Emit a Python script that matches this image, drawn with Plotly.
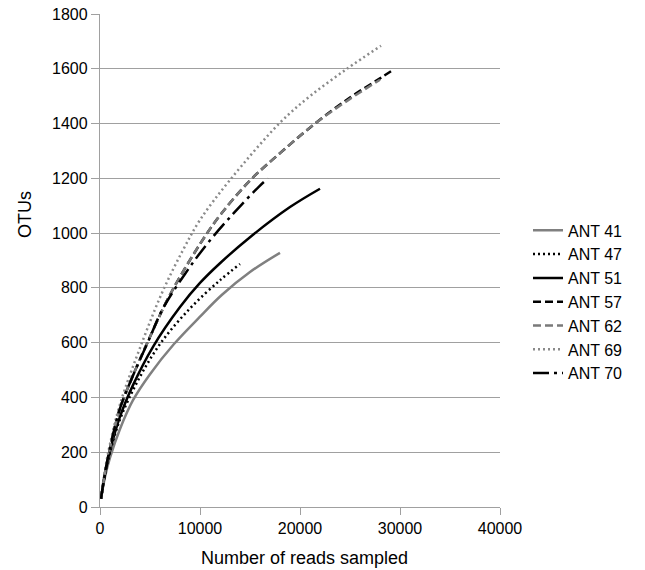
import plotly.graph_objects as go

# Data (reads sampled -> OTUs)
ant41_x = [100, 500, 1000, 2000, 3300, 5000, 7400, 10000, 12200, 15000, 18000]
ant41_y = [30, 110, 180, 285, 390, 485, 595, 695, 775, 858, 928]

ant47_x = [100, 500, 1000, 2000, 3700, 6000, 9000, 12000, 14000]
ant47_y = [30, 120, 200, 320, 455, 595, 725, 828, 887]

ant51_x = [100, 500, 1000, 2000, 3300, 5300, 8000, 10000, 12000, 15000, 19000, 22000]
ant51_y = [30, 120, 205, 330, 445, 585, 730, 818, 890, 985, 1095, 1162]

ant57_x = [100, 500, 1000, 2000, 3300, 4800, 7000, 10000, 12000, 15000, 18000, 21500, 25000, 28000, 29100]
ant57_y = [30, 125, 215, 360, 480, 605, 775, 960, 1065, 1192, 1292, 1400, 1495, 1565, 1591]

ant62_x = [100, 500, 1000, 2000, 3300, 4800, 7000, 10000, 12000, 15000, 18000, 21500, 25000, 28000]
ant62_y = [30, 125, 215, 360, 480, 605, 775, 960, 1065, 1192, 1292, 1400, 1490, 1560]

ant69_x = [100, 500, 1000, 2000, 4300, 6300, 8300, 10000, 13000, 18000, 21000, 24700, 28100]
ant69_y = [30, 135, 230, 375, 610, 790, 938, 1048, 1194, 1403, 1500, 1600, 1684]

ant70_x = [100, 500, 1000, 2000, 3300, 4800, 6300, 8500, 10700, 13300, 15900, 16800]
ant70_y = [30, 125, 215, 360, 480, 603, 725, 851, 960, 1070, 1170, 1200]

x_ticks = [0, 10000, 20000, 30000, 40000]
y_ticks = [0, 200, 400, 600, 800, 1000, 1200, 1400, 1600, 1800]

FONT = "Arial, 'Liberation Sans', sans-serif"

series = [
    ("ANT 41", ant41_x, ant41_y, "#808080", "solid"),
    ("ANT 47", ant47_x, ant47_y, "#000000", "2px,3px"),
    ("ANT 51", ant51_x, ant51_y, "#000000", "solid"),
    ("ANT 57", ant57_x, ant57_y, "#000000", "8px,4px"),
    ("ANT 62", ant62_x, ant62_y, "#7a7a7a", "8px,4px"),
    ("ANT 69", ant69_x, ant69_y, "#8a8a8a", "2px,3px"),
    ("ANT 70", ant70_x, ant70_y, "#000000", "16px,5px,3px,5px"),
]

fig = go.Figure()
for name, xs, ys, color, dash in series:
    fig.add_trace(go.Scatter(
        x=xs, y=ys, name=name, mode="lines", legendgroup=name,
        line=dict(color=color, width=2.5, dash=dash, shape="spline", smoothing=1.0),
    ))

fig.update_layout(
    width=645, height=570,
    margin=dict(l=100, r=145, t=14, b=63, autoexpand=False),
    paper_bgcolor="white", plot_bgcolor="white",
    font=dict(family=FONT, size=16, color="#000000"),
    showlegend=True,
    legend=dict(
        x=1.07, xanchor="left", y=0.416, yanchor="middle",
        font=dict(family=FONT, size=16, color="#000000"),
        bgcolor="rgba(0,0,0,0)", tracegroupgap=0, itemwidth=30,
    ),
    xaxis=dict(
        range=[0, 40000], tickvals=x_ticks, ticktext=[str(v) for v in x_ticks],
        showgrid=False, zeroline=False, automargin=False,
        showline=True, linecolor="#a0a0a0", linewidth=1.3,
        ticks="outside", ticklen=7, tickcolor="#a0a0a0", tickwidth=1.3,
        tickfont=dict(family=FONT, size=16),
    ),
    yaxis=dict(
        range=[0, 1800], tickvals=y_ticks, ticktext=[str(v) for v in y_ticks],
        showgrid=True, gridcolor="#a0a0a0", gridwidth=1.3, zeroline=False, automargin=False,
        showline=True, linecolor="#a0a0a0", linewidth=1.3,
        ticks="outside", ticklen=8, tickcolor="#a0a0a0", tickwidth=1.3,
        tickfont=dict(family=FONT, size=16),
    ),
)

# axis titles placed at pixel positions
def px_to_paper(xp, yp):
    return (xp - 100) / 400, (507 - yp) / 493

ax, ay = px_to_paper(25, 215)
bx, by = px_to_paper(304, 558)
fig.add_annotation(text="OTUs", x=ax, y=ay, xref="paper", yref="paper",
                   showarrow=False, textangle=-90, font=dict(family=FONT, size=18),
                   xanchor="center", yanchor="middle")
fig.add_annotation(text="Number of reads sampled", x=bx, y=by, xref="paper", yref="paper",
                   showarrow=False, font=dict(family=FONT, size=18),
                   xanchor="center", yanchor="middle")

fig.write_html("out.html")
